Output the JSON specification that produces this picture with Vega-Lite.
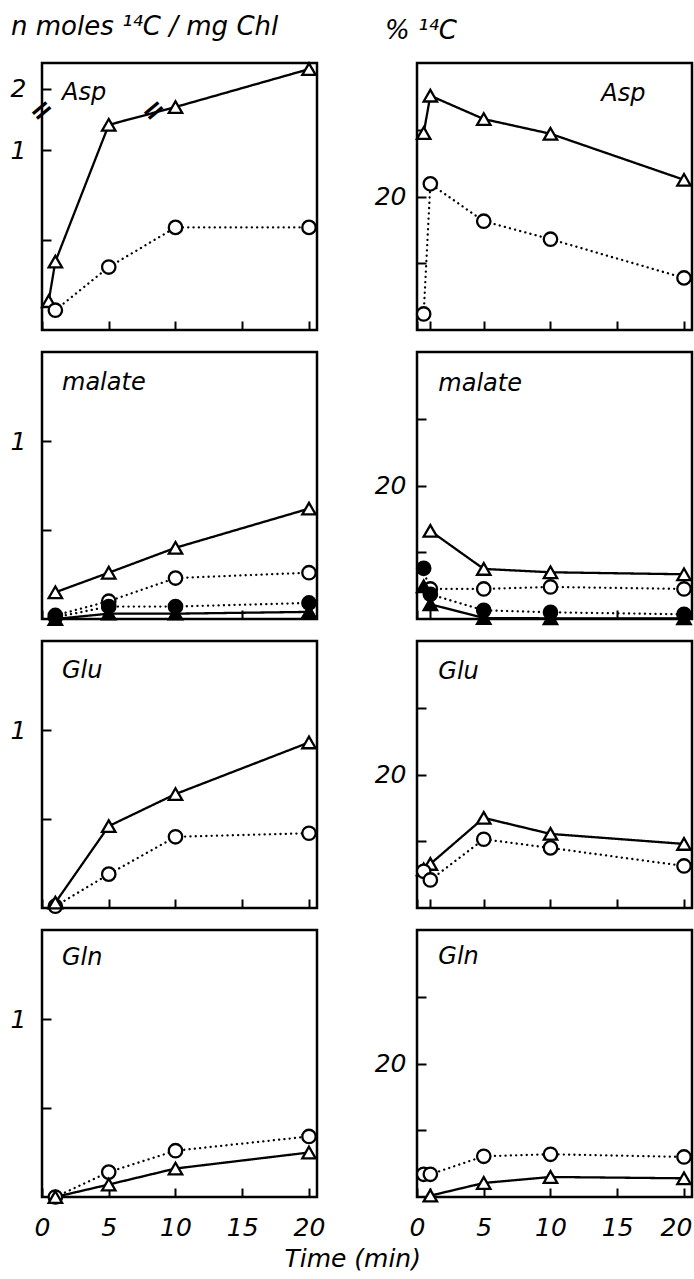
{
  "$schema": "https://vega.github.io/schema/vega-lite/v6.json",
  "padding": {"left": 8, "top": 12, "right": 0, "bottom": 0},
  "bounds": "flush",
  "columns": 2,
  "spacing": {"row": 22, "column": 100},
  "datasets": {
    "d": [
      {"p":"AspN","s":"s1","t":0.5,"v":0.16},{"p":"AspN","s":"s1","t":1,"v":0.38},{"p":"AspN","s":"s1","t":5,"v":1.14},{"p":"AspN","s":"s1","t":10,"v":1.9},{"p":"AspN","s":"s1","t":20,"v":2.11},
      {"p":"AspN","s":"s2","t":1,"v":0.11},{"p":"AspN","s":"s2","t":5,"v":0.35},{"p":"AspN","s":"s2","t":10,"v":0.57},{"p":"AspN","s":"s2","t":20,"v":0.57},
      {"p":"AspN","s":"lab","t":1.5,"v":1.977,"txt":"Asp"},
      {"p":"AspN","s":"brk","t":0,"v":1.5,"txt":"="},{"p":"AspN","s":"brk","t":8.4,"v":1.5,"txt":"="},

      {"p":"AspP","s":"s1","t":0.5,"v":29.5},{"p":"AspP","s":"s1","t":1,"v":35.1},{"p":"AspP","s":"s1","t":5,"v":31.6},{"p":"AspP","s":"s1","t":10,"v":29.4},{"p":"AspP","s":"s1","t":20,"v":22.5},
      {"p":"AspP","s":"s2","t":0.5,"v":2.4},{"p":"AspP","s":"s2","t":1,"v":21.9},{"p":"AspP","s":"s2","t":5,"v":16.3},{"p":"AspP","s":"s2","t":10,"v":13.6},{"p":"AspP","s":"s2","t":20,"v":7.8},
      {"p":"AspP","s":"lab","t":13.8,"v":35.4,"txt":"Asp"},

      {"p":"MalN","s":"s1","t":1,"v":0.15},{"p":"MalN","s":"s1","t":5,"v":0.26},{"p":"MalN","s":"s1","t":10,"v":0.4},{"p":"MalN","s":"s1","t":20,"v":0.62},
      {"p":"MalN","s":"s2","t":1,"v":0.02},{"p":"MalN","s":"s2","t":5,"v":0.1},{"p":"MalN","s":"s2","t":10,"v":0.23},{"p":"MalN","s":"s2","t":20,"v":0.26},
      {"p":"MalN","s":"s3","t":1,"v":0.01},{"p":"MalN","s":"s3","t":5,"v":0.07},{"p":"MalN","s":"s3","t":10,"v":0.07},{"p":"MalN","s":"s3","t":20,"v":0.09},
      {"p":"MalN","s":"s4","t":1,"v":0.0},{"p":"MalN","s":"s4","t":5,"v":0.03},{"p":"MalN","s":"s4","t":10,"v":0.03},{"p":"MalN","s":"s4","t":20,"v":0.04},
      {"p":"MalN","s":"lab","t":1.5,"v":1.326,"txt":"malate"},

      {"p":"MalP","s":"s1","t":1,"v":13.2},{"p":"MalP","s":"s1","t":5,"v":7.5},{"p":"MalP","s":"s1","t":10,"v":7.0},{"p":"MalP","s":"s1","t":20,"v":6.7},
      {"p":"MalP","s":"s2","t":1,"v":4.5},{"p":"MalP","s":"s2","t":5,"v":4.5},{"p":"MalP","s":"s2","t":10,"v":4.8},{"p":"MalP","s":"s2","t":20,"v":4.5},
      {"p":"MalP","s":"s3","t":0.5,"v":7.6},{"p":"MalP","s":"s3","t":1,"v":3.7},{"p":"MalP","s":"s3","t":5,"v":1.3},{"p":"MalP","s":"s3","t":10,"v":1.0},{"p":"MalP","s":"s3","t":20,"v":0.7},
      {"p":"MalP","s":"s4","t":0.5,"v":4.9},{"p":"MalP","s":"s4","t":1,"v":2.2},{"p":"MalP","s":"s4","t":5,"v":0.15},{"p":"MalP","s":"s4","t":10,"v":0.1},{"p":"MalP","s":"s4","t":20,"v":0.1},
      {"p":"MalP","s":"lab","t":1.6,"v":35.2,"txt":"malate"},

      {"p":"GluN","s":"s2","t":1,"v":0.01},{"p":"GluN","s":"s2","t":5,"v":0.19},{"p":"GluN","s":"s2","t":10,"v":0.4},{"p":"GluN","s":"s2","t":20,"v":0.42},
      {"p":"GluN","s":"s1","t":1,"v":0.03},{"p":"GluN","s":"s1","t":5,"v":0.46},{"p":"GluN","s":"s1","t":10,"v":0.64},{"p":"GluN","s":"s1","t":20,"v":0.93},
      {"p":"GluN","s":"lab","t":1.5,"v":1.33,"txt":"Glu"},

      {"p":"GluP","s":"s1","t":0.5,"v":5.8},{"p":"GluP","s":"s1","t":1,"v":6.6},{"p":"GluP","s":"s1","t":5,"v":13.5},{"p":"GluP","s":"s1","t":10,"v":11.1},{"p":"GluP","s":"s1","t":20,"v":9.6},
      {"p":"GluP","s":"s2","t":0.5,"v":5.5},{"p":"GluP","s":"s2","t":1,"v":4.2},{"p":"GluP","s":"s2","t":5,"v":10.3},{"p":"GluP","s":"s2","t":10,"v":9.0},{"p":"GluP","s":"s2","t":20,"v":6.3},
      {"p":"GluP","s":"lab","t":1.6,"v":35.3,"txt":"Glu"},

      {"p":"GlnN","s":"s2","t":1,"v":0.0},{"p":"GlnN","s":"s2","t":5,"v":0.14},{"p":"GlnN","s":"s2","t":10,"v":0.26},{"p":"GlnN","s":"s2","t":20,"v":0.34},
      {"p":"GlnN","s":"s1","t":1,"v":0.0},{"p":"GlnN","s":"s1","t":5,"v":0.07},{"p":"GlnN","s":"s1","t":10,"v":0.16},{"p":"GlnN","s":"s1","t":20,"v":0.25},
      {"p":"GlnN","s":"lab","t":1.5,"v":1.34,"txt":"Gln"},

      {"p":"GlnP","s":"s1","t":1,"v":0.2},{"p":"GlnP","s":"s1","t":5,"v":2.1},{"p":"GlnP","s":"s1","t":10,"v":3.0},{"p":"GlnP","s":"s1","t":20,"v":2.8},
      {"p":"GlnP","s":"s2","t":0.5,"v":3.4},{"p":"GlnP","s":"s2","t":1,"v":3.4},{"p":"GlnP","s":"s2","t":5,"v":6.1},{"p":"GlnP","s":"s2","t":10,"v":6.4},{"p":"GlnP","s":"s2","t":20,"v":6.0},
      {"p":"GlnP","s":"lab","t":1.6,"v":36,"txt":"Gln"}
    ]
  },
  "data": {"name": "d"},
  "title": {"text": "Time (min)", "orient": "bottom", "anchor": "middle", "offset": 6, "fontSize": 25},
  "concat": [
    {
      "width": 275, "height": 267,
      "title": {"text": "n moles ¹⁴C / mg Chl", "anchor": "start", "frame": "group", "dx": -31, "offset": -2, "baseline": "alphabetic"},
      "transform": [{"filter": "datum.p == 'AspN'"}],
      "encoding": {
        "x": {"field": "t", "type": "quantitative", "title": null, "scale": {"domain": [0, 20.6], "nice": false, "zero": false}, "axis": {"values": [0, 5, 10, 15, 20], "labels": false}},
        "y": {"field": "v", "type": "quantitative", "title": null, "scale": {"domain": [0, 1.217, 1.878, 2.144], "range": [267, 48, 48, 0], "nice": false, "zero": false}, "axis": {"values": [0.5, 1, 2], "labelExpr": "datum.value >= 1 ? datum.label : ''"}}
      },
      "layer": [
        {"transform": [{"filter": "datum.s == 's1' || datum.s == 's2' || datum.s == 's3' || datum.s == 's4'"}], "mark": {"type": "line", "color": "black", "strokeWidth": 2.3, "strokeCap": "round"}, "encoding": {"strokeDash": {"field": "s", "type": "nominal", "legend": null, "scale": {"domain": ["s1", "s2", "s3", "s4"], "range": [[1, 0], [0.1, 5.2], [0.1, 5.2], [1, 0]]}}}},
        {"transform": [{"filter": "datum.s == 's1' || datum.s == 's2' || datum.s == 's3' || datum.s == 's4'"}], "mark": {"type": "point", "stroke": "black", "strokeWidth": 2.3, "size": 180, "opacity": 1, "fillOpacity": 1}, "encoding": {"shape": {"field": "s", "type": "nominal", "legend": null, "scale": {"domain": ["s1", "s2", "s3", "s4"], "range": ["triangle-up", "circle", "circle", "triangle-up"]}}, "fill": {"field": "s", "type": "nominal", "legend": null, "scale": {"domain": ["s1", "s2", "s3", "s4"], "range": ["white", "white", "black", "black"]}}}},
        {"transform": [{"filter": "datum.s == 'lab'"}], "mark": {"type": "text", "align": "left", "baseline": "middle"}, "encoding": {"text": {"field": "txt"}}},
        {"transform": [{"filter": "datum.s == 'brk'"}], "mark": {"type": "text", "align": "center", "baseline": "middle", "angle": 320, "fontSize": 28, "fontStyle": "normal", "fontWeight": "bold"}, "encoding": {"text": {"field": "txt"}}}
      ]
    },
    {
      "width": 275, "height": 267,
      "title": {"text": "% ¹⁴C", "anchor": "start", "frame": "group", "dx": -32, "offset": -2, "baseline": "alphabetic"},
      "transform": [{"filter": "datum.p == 'AspP'"}],
      "encoding": {
        "x": {"field": "t", "type": "quantitative", "title": null, "scale": {"domain": [0, 20.6], "nice": false, "zero": false}, "axis": {"values": [0, 1, 5, 10, 15, 20], "labels": false}},
        "y": {"field": "v", "type": "quantitative", "title": null, "scale": {"domain": [0, 40], "nice": false, "zero": false}, "axis": {"values": [10, 20, 30], "labelExpr": "datum.value == 20 ? '20' : ''", "labelPadding": 20}}
      },
      "layer": [
        {"transform": [{"filter": "datum.s != 'lab'"}], "mark": {"type": "line", "color": "black", "strokeWidth": 2.3, "strokeCap": "round"}, "encoding": {"strokeDash": {"field": "s", "type": "nominal", "legend": null, "scale": {"domain": ["s1", "s2", "s3", "s4"], "range": [[1, 0], [0.1, 5.2], [0.1, 5.2], [1, 0]]}}}},
        {"transform": [{"filter": "datum.s != 'lab'"}], "mark": {"type": "point", "stroke": "black", "strokeWidth": 2.3, "size": 180, "opacity": 1, "fillOpacity": 1}, "encoding": {"shape": {"field": "s", "type": "nominal", "legend": null, "scale": {"domain": ["s1", "s2", "s3", "s4"], "range": ["triangle-up", "circle", "circle", "triangle-up"]}}, "fill": {"field": "s", "type": "nominal", "legend": null, "scale": {"domain": ["s1", "s2", "s3", "s4"], "range": ["white", "white", "black", "black"]}}}},
        {"transform": [{"filter": "datum.s == 'lab'"}], "mark": {"type": "text", "align": "left", "baseline": "middle"}, "encoding": {"text": {"field": "txt"}}}
      ]
    },
    {
      "width": 275, "height": 267,
      "transform": [{"filter": "datum.p == 'MalN'"}],
      "encoding": {
        "x": {"field": "t", "type": "quantitative", "title": null, "scale": {"domain": [0, 20.6], "nice": false, "zero": false}, "axis": {"values": [0, 5, 10, 15, 20], "labels": false}},
        "y": {"field": "v", "type": "quantitative", "title": null, "scale": {"domain": [0, 1.5], "nice": false, "zero": false}, "axis": {"values": [0.5, 1], "labelExpr": "datum.value >= 1 ? datum.label : ''"}}
      },
      "layer": [
        {"transform": [{"filter": "datum.s != 'lab'"}], "mark": {"type": "line", "color": "black", "strokeWidth": 2.3, "strokeCap": "round"}, "encoding": {"strokeDash": {"field": "s", "type": "nominal", "legend": null, "scale": {"domain": ["s1", "s2", "s3", "s4"], "range": [[1, 0], [0.1, 5.2], [0.1, 5.2], [1, 0]]}}}},
        {"transform": [{"filter": "datum.s != 'lab'"}], "mark": {"type": "point", "stroke": "black", "strokeWidth": 2.3, "size": 180, "opacity": 1, "fillOpacity": 1}, "encoding": {"shape": {"field": "s", "type": "nominal", "legend": null, "scale": {"domain": ["s1", "s2", "s3", "s4"], "range": ["triangle-up", "circle", "circle", "triangle-up"]}}, "fill": {"field": "s", "type": "nominal", "legend": null, "scale": {"domain": ["s1", "s2", "s3", "s4"], "range": ["white", "white", "black", "black"]}}}},
        {"transform": [{"filter": "datum.s == 'lab'"}], "mark": {"type": "text", "align": "left", "baseline": "middle"}, "encoding": {"text": {"field": "txt"}}}
      ]
    },
    {
      "width": 275, "height": 267,
      "transform": [{"filter": "datum.p == 'MalP'"}],
      "encoding": {
        "x": {"field": "t", "type": "quantitative", "title": null, "scale": {"domain": [0, 20.6], "nice": false, "zero": false}, "axis": {"values": [0, 1, 5, 10, 15, 20], "labels": false}},
        "y": {"field": "v", "type": "quantitative", "title": null, "scale": {"domain": [0, 40], "nice": false, "zero": false}, "axis": {"values": [10, 20, 30], "labelExpr": "datum.value == 20 ? '20' : ''", "labelPadding": 20}}
      },
      "layer": [
        {"transform": [{"filter": "datum.s != 'lab'"}], "mark": {"type": "line", "color": "black", "strokeWidth": 2.3, "strokeCap": "round"}, "encoding": {"strokeDash": {"field": "s", "type": "nominal", "legend": null, "scale": {"domain": ["s1", "s2", "s3", "s4"], "range": [[1, 0], [0.1, 5.2], [0.1, 5.2], [1, 0]]}}}},
        {"transform": [{"filter": "datum.s != 'lab'"}], "mark": {"type": "point", "stroke": "black", "strokeWidth": 2.3, "size": 180, "opacity": 1, "fillOpacity": 1}, "encoding": {"shape": {"field": "s", "type": "nominal", "legend": null, "scale": {"domain": ["s1", "s2", "s3", "s4"], "range": ["triangle-up", "circle", "circle", "triangle-up"]}}, "fill": {"field": "s", "type": "nominal", "legend": null, "scale": {"domain": ["s1", "s2", "s3", "s4"], "range": ["white", "white", "black", "black"]}}}},
        {"transform": [{"filter": "datum.s == 'lab'"}], "mark": {"type": "text", "align": "left", "baseline": "middle"}, "encoding": {"text": {"field": "txt"}}}
      ]
    },
    {
      "width": 275, "height": 267,
      "transform": [{"filter": "datum.p == 'GluN'"}],
      "encoding": {
        "x": {"field": "t", "type": "quantitative", "title": null, "scale": {"domain": [0, 20.6], "nice": false, "zero": false}, "axis": {"values": [0, 5, 10, 15, 20], "labels": false}},
        "y": {"field": "v", "type": "quantitative", "title": null, "scale": {"domain": [0, 1.5], "nice": false, "zero": false}, "axis": {"values": [0.5, 1], "labelExpr": "datum.value >= 1 ? datum.label : ''"}}
      },
      "layer": [
        {"transform": [{"filter": "datum.s != 'lab'"}], "mark": {"type": "line", "color": "black", "strokeWidth": 2.3, "strokeCap": "round"}, "encoding": {"strokeDash": {"field": "s", "type": "nominal", "legend": null, "scale": {"domain": ["s1", "s2", "s3", "s4"], "range": [[1, 0], [0.1, 5.2], [0.1, 5.2], [1, 0]]}}}},
        {"transform": [{"filter": "datum.s != 'lab'"}], "mark": {"type": "point", "stroke": "black", "strokeWidth": 2.3, "size": 180, "opacity": 1, "fillOpacity": 1}, "encoding": {"shape": {"field": "s", "type": "nominal", "legend": null, "scale": {"domain": ["s1", "s2", "s3", "s4"], "range": ["triangle-up", "circle", "circle", "triangle-up"]}}, "fill": {"field": "s", "type": "nominal", "legend": null, "scale": {"domain": ["s1", "s2", "s3", "s4"], "range": ["white", "white", "black", "black"]}}}},
        {"transform": [{"filter": "datum.s == 'lab'"}], "mark": {"type": "text", "align": "left", "baseline": "middle"}, "encoding": {"text": {"field": "txt"}}}
      ]
    },
    {
      "width": 275, "height": 267,
      "transform": [{"filter": "datum.p == 'GluP'"}],
      "encoding": {
        "x": {"field": "t", "type": "quantitative", "title": null, "scale": {"domain": [0, 20.6], "nice": false, "zero": false}, "axis": {"values": [0, 1, 5, 10, 15, 20], "labels": false}},
        "y": {"field": "v", "type": "quantitative", "title": null, "scale": {"domain": [0, 40], "nice": false, "zero": false}, "axis": {"values": [10, 20, 30], "labelExpr": "datum.value == 20 ? '20' : ''", "labelPadding": 20}}
      },
      "layer": [
        {"transform": [{"filter": "datum.s != 'lab'"}], "mark": {"type": "line", "color": "black", "strokeWidth": 2.3, "strokeCap": "round"}, "encoding": {"strokeDash": {"field": "s", "type": "nominal", "legend": null, "scale": {"domain": ["s1", "s2", "s3", "s4"], "range": [[1, 0], [0.1, 5.2], [0.1, 5.2], [1, 0]]}}}},
        {"transform": [{"filter": "datum.s != 'lab'"}], "mark": {"type": "point", "stroke": "black", "strokeWidth": 2.3, "size": 180, "opacity": 1, "fillOpacity": 1}, "encoding": {"shape": {"field": "s", "type": "nominal", "legend": null, "scale": {"domain": ["s1", "s2", "s3", "s4"], "range": ["triangle-up", "circle", "circle", "triangle-up"]}}, "fill": {"field": "s", "type": "nominal", "legend": null, "scale": {"domain": ["s1", "s2", "s3", "s4"], "range": ["white", "white", "black", "black"]}}}},
        {"transform": [{"filter": "datum.s == 'lab'"}], "mark": {"type": "text", "align": "left", "baseline": "middle"}, "encoding": {"text": {"field": "txt"}}}
      ]
    },
    {
      "width": 275, "height": 267,
      "transform": [{"filter": "datum.p == 'GlnN'"}],
      "encoding": {
        "x": {"field": "t", "type": "quantitative", "title": null, "scale": {"domain": [0, 20.6], "nice": false, "zero": false}, "axis": {"values": [0, 5, 10, 15, 20], "labels": true, "labelPadding": 27}},
        "y": {"field": "v", "type": "quantitative", "title": null, "scale": {"domain": [0, 1.5], "nice": false, "zero": false}, "axis": {"values": [0.5, 1], "labelExpr": "datum.value >= 1 ? datum.label : ''"}}
      },
      "layer": [
        {"transform": [{"filter": "datum.s != 'lab'"}], "mark": {"type": "line", "color": "black", "strokeWidth": 2.3, "strokeCap": "round"}, "encoding": {"strokeDash": {"field": "s", "type": "nominal", "legend": null, "scale": {"domain": ["s1", "s2", "s3", "s4"], "range": [[1, 0], [0.1, 5.2], [0.1, 5.2], [1, 0]]}}}},
        {"transform": [{"filter": "datum.s != 'lab'"}], "mark": {"type": "point", "stroke": "black", "strokeWidth": 2.3, "size": 180, "opacity": 1, "fillOpacity": 1}, "encoding": {"shape": {"field": "s", "type": "nominal", "legend": null, "scale": {"domain": ["s1", "s2", "s3", "s4"], "range": ["triangle-up", "circle", "circle", "triangle-up"]}}, "fill": {"field": "s", "type": "nominal", "legend": null, "scale": {"domain": ["s1", "s2", "s3", "s4"], "range": ["white", "white", "black", "black"]}}}},
        {"transform": [{"filter": "datum.s == 'lab'"}], "mark": {"type": "text", "align": "left", "baseline": "middle"}, "encoding": {"text": {"field": "txt"}}}
      ]
    },
    {
      "width": 275, "height": 267,
      "transform": [{"filter": "datum.p == 'GlnP'"}],
      "encoding": {
        "x": {"field": "t", "type": "quantitative", "title": null, "scale": {"domain": [0, 20.6], "nice": false, "zero": false}, "axis": {"values": [0, 1, 5, 10, 15, 20], "labels": true, "labelPadding": 27, "labelExpr": "datum.value == 1 ? '' : datum.label", "labelOffset": {"condition": {"test": "datum.value == 20", "value": -8}, "value": 0}}},
        "y": {"field": "v", "type": "quantitative", "title": null, "scale": {"domain": [0, 40], "nice": false, "zero": false}, "axis": {"values": [10, 20, 30], "labelExpr": "datum.value == 20 ? '20' : ''", "labelPadding": 20}}
      },
      "layer": [
        {"transform": [{"filter": "datum.s != 'lab'"}], "mark": {"type": "line", "color": "black", "strokeWidth": 2.3, "strokeCap": "round"}, "encoding": {"strokeDash": {"field": "s", "type": "nominal", "legend": null, "scale": {"domain": ["s1", "s2", "s3", "s4"], "range": [[1, 0], [0.1, 5.2], [0.1, 5.2], [1, 0]]}}}},
        {"transform": [{"filter": "datum.s != 'lab'"}], "mark": {"type": "point", "stroke": "black", "strokeWidth": 2.3, "size": 180, "opacity": 1, "fillOpacity": 1}, "encoding": {"shape": {"field": "s", "type": "nominal", "legend": null, "scale": {"domain": ["s1", "s2", "s3", "s4"], "range": ["triangle-up", "circle", "circle", "triangle-up"]}}, "fill": {"field": "s", "type": "nominal", "legend": null, "scale": {"domain": ["s1", "s2", "s3", "s4"], "range": ["white", "white", "black", "black"]}}}},
        {"transform": [{"filter": "datum.s == 'lab'"}], "mark": {"type": "text", "align": "left", "baseline": "middle"}, "encoding": {"text": {"field": "txt"}}}
      ]
    }
  ],
  "config": {
    "background": "white",
    "view": {"stroke": "black", "strokeWidth": 2.5},
    "axis": {"domain": false, "grid": false, "ticks": true, "tickColor": "black", "tickWidth": 2, "tickSize": -9, "labelFont": "DejaVu Sans", "labelFontStyle": "italic", "labelFontSize": 25, "labelColor": "black", "labelFlush": false, "labelOverlap": false, "labelPadding": 10},
    "axisY": {"labelPadding": 25},
    "title": {"font": "DejaVu Sans", "fontStyle": "italic", "fontWeight": "normal", "fontSize": 26, "color": "black"},
    "text": {"font": "DejaVu Sans", "fontStyle": "italic", "fontSize": 24, "color": "black"},
    "legend": {"disable": true}
  }
}
